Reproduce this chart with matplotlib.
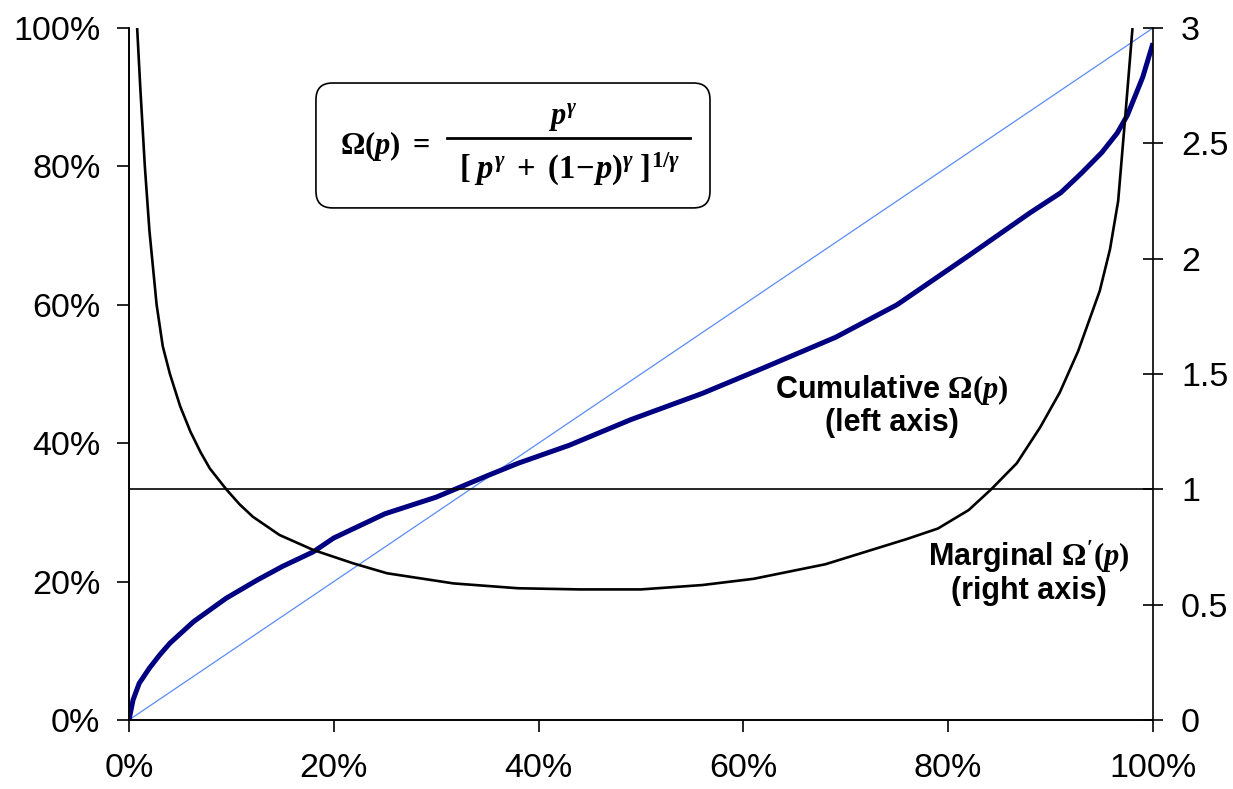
import matplotlib
matplotlib.use("Agg")
import matplotlib.pyplot as plt
from matplotlib.patches import FancyBboxPatch
from matplotlib.lines import Line2D

# values
cum_p = [0.0, 0.004, 0.01, 0.02, 0.03, 0.04, 0.063, 0.095, 0.125, 0.15, 0.18, 0.20, 0.25,
         0.30, 0.35, 0.38, 0.43, 0.49, 0.56, 0.62, 0.69, 0.75, 0.82, 0.88,
         0.91, 0.93, 0.95, 0.965, 0.975, 0.99, 1.0]
cum_v = [0.0, 0.029, 0.053, 0.075, 0.094, 0.111, 0.142, 0.176, 0.202, 0.222, 0.243, 0.263, 0.298,
         0.322, 0.353, 0.371, 0.397, 0.434, 0.472, 0.509, 0.553, 0.600, 0.671, 0.733,
         0.762, 0.790, 0.820, 0.848, 0.874, 0.929, 0.978]

mar_p = [0.008, 0.011, 0.0155, 0.02, 0.027, 0.033, 0.04, 0.05, 0.06, 0.07, 0.079, 0.095,
         0.108, 0.121, 0.147, 0.18, 0.219, 0.252, 0.317, 0.38, 0.44, 0.50, 0.56, 0.61,
         0.68, 0.72, 0.76, 0.79, 0.82, 0.842, 0.867, 0.89, 0.909, 0.927, 0.948,
         0.958, 0.966, 0.973, 0.98]
mar_v = [3.0, 2.745, 2.40, 2.12, 1.80, 1.62, 1.50, 1.36, 1.25, 1.16, 1.09, 1.0,
         0.935, 0.881, 0.802, 0.737, 0.679, 0.636, 0.592, 0.571, 0.566, 0.566, 0.585, 0.612,
         0.675, 0.73, 0.785, 0.83, 0.91, 1.0, 1.113, 1.27, 1.42, 1.60, 1.86,
         2.04, 2.25, 2.62, 3.0]

diag_p = [0.0, 1.0]
diag_v = [0.0, 1.0]
unit_level = 1.0

x_ticks = [0.0, 0.2, 0.4, 0.6, 0.8, 1.0]
x_tick_labels = ["0%", "20%", "40%", "60%", "80%", "100%"]
left_ticks = [0.0, 0.2, 0.4, 0.6, 0.8, 1.0]
left_tick_labels = ["0%", "20%", "40%", "60%", "80%", "100%"]
right_ticks = [0.0, 0.5, 1.0, 1.5, 2.0, 2.5, 3.0]
right_tick_labels = ["0", "0.5", "1", "1.5", "2", "2.5", "3"]

plt.rcParams["font.family"] = ["Liberation Sans", "DejaVu Sans"]
plt.rcParams["mathtext.fontset"] = "custom"
plt.rcParams["mathtext.rm"] = "Liberation Serif:bold"
plt.rcParams["mathtext.it"] = "Liberation Serif:italic:bold"
plt.rcParams["mathtext.bf"] = "Liberation Serif:bold"

fig = plt.figure(figsize=(12.33, 7.89), dpi=100)
ax = fig.add_axes([0.1046, 0.0875, 0.8305, 0.877])
ax2 = ax.twinx()

ax.plot(diag_p, diag_v, color="#5b8cf7", lw=0.9, zorder=2)
ax.plot(cum_p, cum_v, color="#000080", lw=3.6, zorder=3, solid_capstyle="butt")
ax2.axhline(unit_level, color="black", lw=1.2)
ax2.plot(mar_p, mar_v, color="black", lw=1.9, solid_capstyle="butt")

ax.set_xlim(0, 1)
ax.set_ylim(0, 1)
ax2.set_ylim(0, 3)

ax.set_xticks(x_ticks)
ax.set_xticklabels(x_tick_labels)
ax.set_yticks(left_ticks)
ax.set_yticklabels(left_tick_labels)
ax2.set_yticks(right_ticks)
ax2.set_yticklabels(right_tick_labels)

for a in (ax, ax2):
    a.spines["top"].set_visible(False)
    for s in a.spines.values():
        s.set_linewidth(1.2)
ax.spines["right"].set_visible(False)
ax.tick_params(axis="x", direction="out", length=8.5, width=1.2, pad=15, labelsize=24.5)
ax.tick_params(axis="y", direction="out", length=8.5, width=1.2, pad=12, labelsize=24.5)
ax2.tick_params(axis="y", direction="inout", length=14.5, width=1.2, pad=13, labelsize=24.5)

# formula box, built from pieces so the fraction keeps full-size type
box = FancyBboxPatch((0.1826, 0.740), 0.3848, 0.1805, boxstyle="round,pad=0,rounding_size=0.016",
                     transform=ax.transAxes, facecolor="white", edgecolor="black", lw=1.2,
                     zorder=5, mutation_aspect=1.5)
ax.add_patch(box)
fkw = dict(transform=ax.transAxes, ha="center", va="center", fontsize=22, zorder=6)
ax.text(0.250, 0.829, r"$\Omega(p)\ =$", **fkw)
ax.text(0.4238, 0.872, r"$p^{\gamma}$", **fkw)
ax.text(0.4300, 0.795, r"$[\;p^{\gamma}\;+\;(1\!-\!p)^{\gamma}\;]^{1/\gamma}$",
        transform=ax.transAxes, ha="center", va="center", fontsize=23.5, zorder=6)
ax.add_line(Line2D([0.3105, 0.5479], [0.841, 0.841], transform=ax.transAxes,
                   color="black", lw=2.0, zorder=6))

ax.text(0.745, 0.455, "Cumulative $\\Omega(p)$\n(left axis)", transform=ax.transAxes,
        ha="center", va="center", fontsize=22, fontweight="bold", linespacing=1.05, zorder=6)
ax.text(0.879, 0.213, "Marginal $\\Omega'(p)$\n(right axis)", transform=ax.transAxes,
        ha="center", va="center", fontsize=22, fontweight="bold", linespacing=1.05, zorder=6)

fig.savefig("out.png", dpi=100, facecolor="white")
